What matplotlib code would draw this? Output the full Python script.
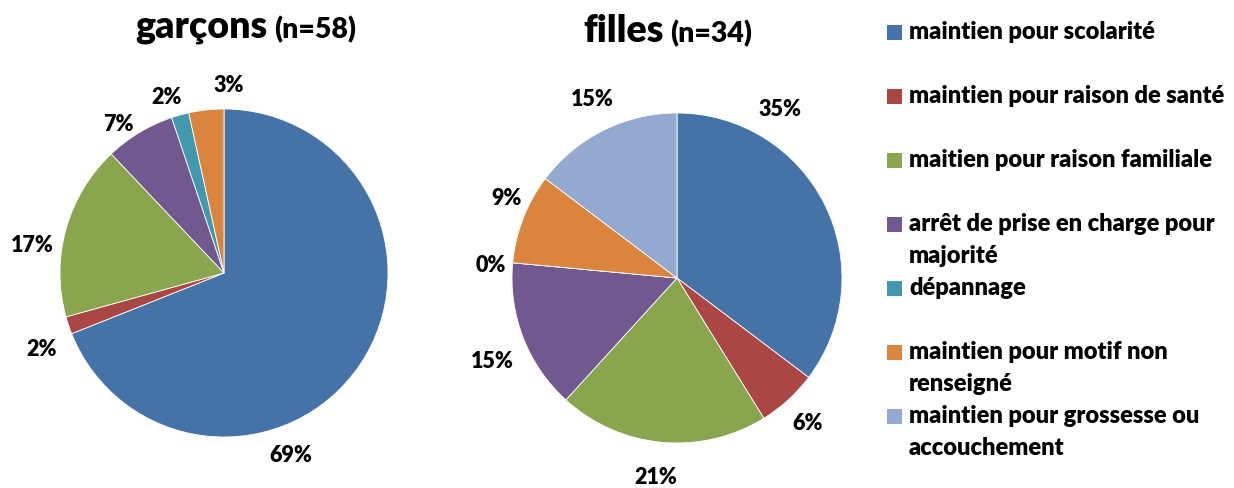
import matplotlib.pyplot as plt
from matplotlib.patches import Rectangle

plt.rcParams['font.family'] = ['Lato', 'DejaVu Sans']
plt.rcParams['font.weight'] = 'heavy'

categories = ['maintien pour scolarité',
              'maintien pour raison de santé',
              'maitien pour raison familiale',
              'arrêt de prise en charge pour\nmajorité',
              'dépannage',
              'maintien pour motif non\nrenseigné',
              'maintien pour grossesse ou\naccouchement']
colors = ['#4572A7', '#AA4643', '#89A54E', '#71588F', '#4198AF', '#DB843D', '#93A9CF']

garcons = [40, 1, 10, 4, 1, 2]          # n=58
filles = [12, 2, 7, 5, 0, 3, 5]        # n=34

W, H = 1234, 488
fig = plt.figure(figsize=(W / 100, H / 100), dpi=100)


def px(x, y):
    return x / W, 1 - y / H


def draw_pie(values, center, r, label_pos):
    cx, cy = center
    ax = fig.add_axes([(cx - r) / W, 1 - (cy + r) / H, 2 * r / W, 2 * r / H])
    ax.pie(values, colors=colors[:len(values)], startangle=90, counterclock=False,
           wedgeprops=dict(edgecolor='white', linewidth=0.6))
    ax.set_xlim(-1, 1)
    ax.set_ylim(-1, 1)
    ax.set_aspect('equal')
    ax.axis('off')
    total = sum(values)
    for v, (lx, ly) in zip(values, label_pos):
        fig.text(*px(lx, ly), f'{round(100 * v / total)}%', ha='center', va='center',
                 fontsize=15.5, fontweight='heavy')


# label centres in pixels (layout only)
g_labels = [(291, 456), (42, 350), (32, 246), (118, 125), (167, 97), (229, 86)]
f_labels = [(780, 109), (808, 423), (656, 478), (492, 362), (491, 266), (507, 198), (592, 100)]

draw_pie(garcons, (224, 273), 164, g_labels)
draw_pie(filles, (677, 278), 165, f_labels)

# titles
fig.text(*px(268, 38), 'garçons', ha='right', va='baseline', fontsize=27, fontweight='heavy')
fig.text(*px(274, 38), '(n=58)', ha='left', va='baseline', fontsize=20.5, fontweight='heavy')
fig.text(*px(664, 42), 'filles', ha='right', va='baseline', fontsize=27, fontweight='heavy')
fig.text(*px(670, 42), '(n=34)', ha='left', va='baseline', fontsize=20.5, fontweight='heavy')

# legend
for i, (lab, col) in enumerate(zip(categories, colors)):
    y0 = 32 + 64 * i
    fig.patches.append(Rectangle(px(887, y0 + 7.5), 15 / W, 15 / H, transform=fig.transFigure,
                                 facecolor=col, edgecolor='none'))
    for j, line in enumerate(lab.split('\n')):
        fig.text(*px(909, y0 + 32 * j), line, ha='left', va='center',
                 fontsize=17, fontweight='heavy')

fig.savefig('out.png', dpi=100)
